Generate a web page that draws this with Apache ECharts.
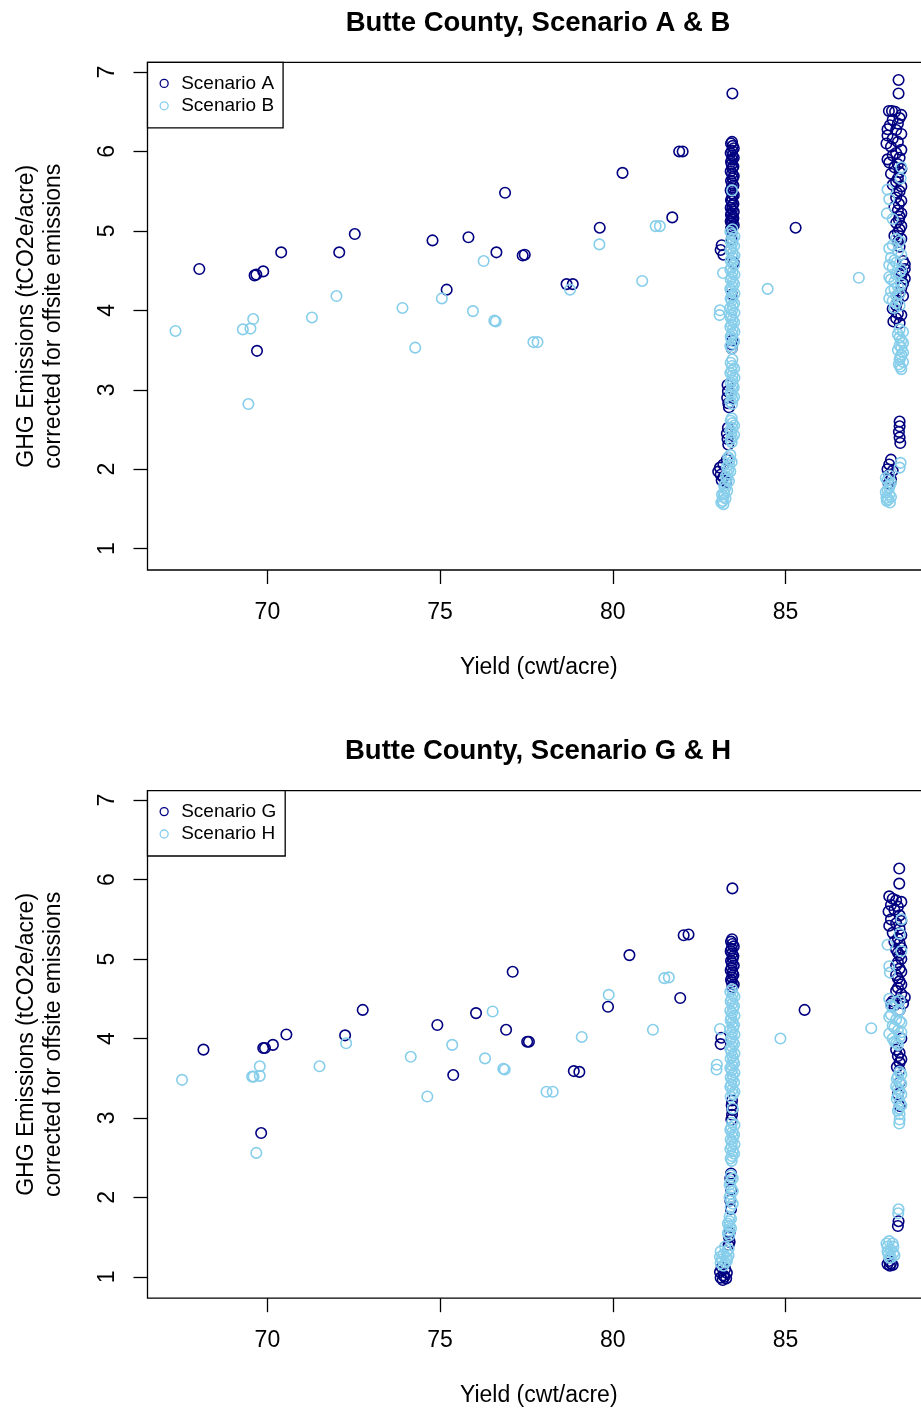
<!DOCTYPE html>
<html>
<head>
<meta charset="utf-8">
<script src="https://cdn.jsdelivr.net/npm/echarts@6/dist/echarts.min.js"></script>
<style>
html, body { margin: 0; padding: 0; background: #fff; }
#chart { width: 921px; height: 1410px; }
</style>
</head>
<body>
<div id="chart"></div>
<script>
// Butte County — GHG emissions vs yield, two scenario pairs stacked
const titles = ['Butte County, Scenario A & B', 'Butte County, Scenario G & H'];
const legendNames = [['Scenario A', 'Scenario B'], ['Scenario G', 'Scenario H']];
const xTicks = [70, 75, 80, 85];
const yTicks = [1, 2, 3, 4, 5, 6, 7];

// top panel, Scenario A (navy)
const scenA = [
  [68.03,4.52],[69.63,4.44],[69.68,4.45],[69.88,4.49],[69.70,3.49],[70.40,4.73],[72.08,4.73],
  [72.53,4.96],[74.78,4.88],[75.19,4.26],[75.82,4.92],[76.63,4.73],[76.88,5.48],[77.39,4.69],
  [77.45,4.70],[78.66,4.33],[78.84,4.33],[79.62,5.04],[80.28,5.73],[81.72,5.17],[81.92,6.00],
  [82.02,6.00],[85.29,5.04],
  // column ~83.4
  [83.46,6.73],
  [83.45,6.12],[83.47,6.07],[83.45,6.01],[83.46,5.95],[83.45,5.90],[83.44,5.84],[83.46,5.79],
  [83.45,5.72],[83.47,5.66],[83.45,5.60],[83.44,5.54],[83.46,5.47],[83.45,5.42],[83.44,5.37],
  [83.46,5.32],[83.45,5.27],[83.43,5.22],[83.47,5.18],[83.45,5.14],[83.44,5.10],[83.46,5.05],
  [83.45,5.00],
  [83.42,6.10],[83.50,6.04],[83.41,5.98],[83.50,5.92],[83.42,5.87],[83.49,5.81],[83.41,5.75],
  [83.50,5.69],[83.42,5.63],[83.49,5.57],[83.41,5.51],[83.50,5.45],[83.42,5.39],[83.49,5.34],
  [83.41,5.29],[83.50,5.24],[83.42,5.20],[83.49,5.16],[83.41,5.12],[83.50,5.07],[83.42,5.03],
  [83.15,4.82],[83.12,4.76],[83.20,4.70],[83.44,4.90],[83.50,4.60],[83.45,4.20],
  [83.46,3.62],[83.45,3.57],[83.44,3.52],
  [83.32,3.06],[83.33,2.98],[83.31,2.90],[83.34,2.83],[83.36,2.78],
  [83.33,2.52],[83.30,2.45],[83.32,2.38],[83.34,2.31],
  [83.30,2.12],[83.20,2.06],[83.10,2.02],[83.05,1.97],[83.12,1.93],[83.20,1.90],[83.15,1.86],[83.28,1.84],
  // column ~88.2
  [88.27,6.90],[88.27,6.73],[87.99,6.51],[88.08,6.51],[88.17,6.50],
  [88.30,6.42],[88.02,6.33],[88.20,6.27],[87.95,6.20],[88.25,6.12],[88.05,6.06],[88.20,5.98],
  [88.30,5.92],[88.00,5.86],[88.15,5.80],[88.30,5.74],[88.25,5.66],[88.10,5.58],[88.30,5.50],
  [88.20,5.42],[88.28,5.34],[88.25,5.26],[88.30,5.18],[88.20,5.10],[88.30,5.02],[88.15,4.94],
  [88.25,4.86],
  [88.35,6.46],[88.10,6.40],[88.25,6.35],[87.95,6.28],[88.35,6.22],[88.10,6.16],[87.92,6.10],
  [88.35,6.02],[88.10,5.95],[87.95,5.90],[88.25,5.84],[88.35,5.78],[88.05,5.72],[88.20,5.62],
  [88.35,5.56],[88.22,5.48],[88.35,5.38],[88.15,5.30],[88.35,5.22],[88.28,5.14],[88.35,5.06],
  [88.25,4.98],[88.35,4.90],[88.30,4.80],
  [88.40,4.62],[88.45,4.52],[88.35,4.44],[88.40,4.34],[88.30,4.22],[88.25,4.12],
  [88.10,4.02],[88.25,3.96],[88.20,3.90],[88.30,3.84],
  [88.45,4.58],[88.38,4.48],[88.45,4.40],[88.35,4.28],[88.40,4.18],[88.20,4.06],[88.35,3.94],[88.12,3.86],
  [88.30,2.60],[88.30,2.54],[88.28,2.47],[88.30,2.40],[88.32,2.33],
  [88.05,2.12],[88.00,2.06],[87.95,2.00],[88.10,1.98],[88.00,1.93],[88.05,1.87],[87.98,1.82]
];

// top panel, Scenario B (sky blue)
const scenB = [
  [67.34,3.74],[69.29,3.76],[69.51,3.77],[69.59,3.89],[69.45,2.82],[71.29,3.91],[72.00,4.18],
  [73.91,4.03],[74.28,3.53],[75.05,4.15],[75.95,3.99],[76.57,3.87],[76.61,3.86],[76.26,4.62],
  [77.70,3.60],[77.82,3.60],[79.61,4.83],[81.24,5.06],[81.36,5.06],[80.85,4.37],[78.76,4.26],
  [87.12,4.41],[84.48,4.27],
  // column ~83.4
  [83.45,5.51],[83.19,4.47],[83.10,4.00],[83.09,3.94],
  [83.46,5.02],[83.44,4.96],[83.47,4.90],[83.45,4.84],[83.43,4.78],[83.46,4.72],[83.48,4.66],
  [83.45,4.60],[83.43,4.54],[83.46,4.48],[83.44,4.42],[83.47,4.36],[83.45,4.30],[83.43,4.24],
  [83.46,4.18],[83.44,4.12],[83.47,4.06],[83.45,4.00],[83.43,3.94],[83.46,3.88],[83.44,3.82],
  [83.47,3.76],[83.45,3.70],[83.43,3.64],[83.46,3.58],[83.44,3.52],
  [83.40,4.99],[83.52,4.93],[83.41,4.87],[83.51,4.81],[83.40,4.75],[83.52,4.69],[83.41,4.63],
  [83.51,4.57],[83.40,4.51],[83.52,4.45],[83.41,4.39],[83.51,4.33],[83.40,4.27],[83.52,4.21],
  [83.41,4.15],[83.51,4.09],[83.40,4.03],[83.52,3.97],[83.41,3.91],[83.51,3.85],[83.40,3.79],
  [83.52,3.73],[83.41,3.67],[83.51,3.61],[83.40,3.55],
  [83.46,3.38],[83.45,3.30],[83.44,3.24],[83.46,3.18],[83.45,3.12],[83.47,3.06],[83.45,3.00],
  [83.44,2.94],[83.46,2.88],[83.45,2.82],
  [83.41,3.34],[83.51,3.27],[83.40,3.21],[83.52,3.15],[83.41,3.09],[83.50,3.03],[83.41,2.97],
  [83.51,2.91],[83.40,2.85],
  [83.44,2.64],[83.46,2.58],[83.45,2.52],[83.43,2.46],[83.45,2.40],[83.44,2.34],
  [83.41,2.61],[83.51,2.55],[83.40,2.49],[83.51,2.43],[83.41,2.37],
  [83.40,2.18],[83.38,2.12],[83.36,2.06],[83.35,2.00],[83.32,1.94],[83.30,1.88],[83.27,1.82],
  [83.25,1.76],[83.22,1.70],[83.20,1.65],[83.18,1.60],[83.20,1.56],
  [83.34,2.15],[83.44,2.09],[83.30,2.03],[83.40,1.97],[83.27,1.91],[83.36,1.85],[83.22,1.79],
  [83.31,1.73],[83.16,1.68],[83.26,1.63],[83.14,1.58],
  // column ~88.2
  [87.95,5.52],[88.35,5.80],[88.33,5.66],[88.00,5.40],[87.93,5.22],[88.10,5.15],
  [88.20,4.90],[88.10,4.82],[88.25,4.74],[88.05,4.66],[88.20,4.60],[88.10,4.54],[88.30,4.48],
  [88.00,4.42],[88.15,4.36],[88.25,4.30],[88.05,4.24],[88.20,4.18],[88.10,4.12],[88.30,4.06],
  [88.30,4.87],[88.00,4.78],[88.35,4.70],[88.15,4.63],[88.00,4.57],[88.35,4.51],[88.20,4.45],
  [88.05,4.39],[88.35,4.33],[88.15,4.27],[88.30,4.21],[88.00,4.15],[88.20,4.09],[88.15,4.03],
  [88.30,3.76],[88.25,3.70],[88.35,3.62],[88.30,3.56],[88.25,3.50],[88.35,3.44],[88.30,3.38],
  [88.28,3.32],[88.35,3.26],
  [88.40,3.73],[88.30,3.66],[88.40,3.59],[88.35,3.53],[88.40,3.47],[88.32,3.41],[88.40,3.35],[88.32,3.29],
  [88.33,2.08],[88.30,2.02],
  [88.00,1.92],[87.95,1.86],[88.02,1.80],[87.95,1.74],[88.00,1.68],[87.97,1.62],[88.02,1.58],[87.93,1.60],
  [87.90,1.89],[88.05,1.83],[88.00,1.77],[87.90,1.71],[88.05,1.65],[87.92,1.64]
];

// bottom panel, Scenario G (navy)
const scenG = [
  [68.15,3.86],[69.88,3.88],[69.93,3.88],[70.16,3.92],[70.55,4.05],[69.82,2.81],[72.25,4.04],
  [72.76,4.36],[74.92,4.17],[75.38,3.54],[76.04,4.32],[76.91,4.11],[77.10,4.84],[77.52,3.96],
  [77.57,3.96],[78.87,3.59],[79.03,3.58],[79.86,4.40],[80.48,5.05],[81.95,4.51],[82.05,5.30],
  [82.19,5.31],[85.55,4.36],
  // column ~83.4
  [83.46,5.89],
  [83.45,5.25],[83.46,5.19],[83.44,5.13],[83.45,5.07],[83.47,5.01],[83.45,4.95],[83.44,4.89],
  [83.46,4.83],[83.45,4.77],[83.44,4.71],[83.46,4.65],
  [83.42,5.22],[83.50,5.16],[83.41,5.10],[83.49,5.04],[83.42,4.98],[83.50,4.92],[83.41,4.86],
  [83.49,4.80],[83.42,4.74],[83.50,4.68],
  [83.14,4.01],[83.12,3.93],
  [83.45,3.22],[83.44,3.16],[83.46,3.10],[83.45,3.04],[83.43,2.98],
  [83.42,2.30],[83.40,2.24],[83.42,2.10],[83.40,1.96],[83.42,1.85],
  [83.38,1.56],[83.36,1.50],[83.38,1.44],[83.35,1.40],
  [83.15,1.12],[83.25,1.10],[83.10,1.06],[83.30,1.05],[83.20,1.02],[83.12,0.99],[83.28,0.98],
  [83.18,0.96],[83.23,1.00],
  // column ~88.2
  [88.29,6.14],[88.29,5.95],
  [88.00,5.79],[88.10,5.76],[88.20,5.74],[88.25,5.66],[87.98,5.60],[88.30,5.55],[88.05,5.50],
  [88.20,5.45],[88.30,5.38],[88.10,5.33],[88.25,5.26],[88.30,5.20],[88.20,5.12],[88.30,5.05],
  [88.25,4.96],[88.30,4.88],[88.20,4.80],[88.30,4.72],[88.25,4.64],[88.35,4.56],[88.30,4.48],
  [88.15,4.42],[88.05,4.44],[88.40,4.44],[88.30,4.36],
  [88.35,5.72],[88.05,5.68],[88.15,5.62],[88.35,5.48],[88.00,5.42],[88.35,5.30],[88.15,5.22],
  [88.35,5.14],[88.25,5.08],[88.35,5.00],[88.20,4.92],[88.35,4.84],[88.25,4.76],[88.35,4.68],
  [88.20,4.60],[88.45,4.52],[88.10,4.47],
  [88.35,4.00],[88.20,3.86],[88.25,3.78],[88.30,3.70],[88.22,3.64],[88.30,3.45],[88.25,3.30],[88.30,3.15],
  [88.30,3.82],[88.35,3.74],[88.30,3.60],
  [88.27,1.70],[88.25,1.64],
  [88.00,1.20],[88.05,1.17],[87.95,1.16],[88.10,1.15],[88.02,1.14]
];

// bottom panel, Scenario H (sky blue)
const scenH = [
  [67.53,3.48],[69.56,3.52],[69.60,3.52],[69.78,3.65],[69.78,3.53],[69.68,2.56],[71.51,3.65],
  [72.28,3.94],[74.15,3.77],[74.63,3.27],[75.35,3.92],[76.30,3.75],[76.52,4.34],[76.83,3.62],
  [76.87,3.61],[79.10,4.02],[79.88,4.55],[78.08,3.33],[78.26,3.33],[81.16,4.11],[81.49,4.76],
  [81.62,4.77],[84.85,4.00],[87.48,4.13],
  // column ~83.4
  [83.01,3.67],[83.00,3.61],[83.10,4.12],
  [83.45,4.62],[83.47,4.56],[83.44,4.50],[83.46,4.44],[83.48,4.38],[83.45,4.32],[83.43,4.26],
  [83.46,4.20],[83.48,4.14],[83.45,4.08],[83.44,4.02],[83.47,3.96],[83.45,3.90],[83.43,3.84],
  [83.46,3.78],[83.48,3.72],[83.45,3.66],[83.44,3.60],[83.47,3.54],[83.45,3.48],[83.43,3.42],
  [83.46,3.36],[83.48,3.30],[83.47,3.12],[83.45,2.94],[83.43,2.88],[83.46,2.82],[83.48,2.76],
  [83.45,2.70],[83.44,2.64],[83.47,2.58],[83.45,2.52],[83.44,2.46],
  [83.40,4.59],[83.52,4.53],[83.41,4.47],[83.51,4.41],[83.40,4.35],[83.52,4.29],[83.41,4.23],
  [83.51,4.17],[83.40,4.11],[83.52,4.05],[83.41,3.99],[83.51,3.93],[83.40,3.87],[83.52,3.81],
  [83.41,3.75],[83.51,3.69],[83.40,3.63],[83.52,3.57],[83.41,3.51],[83.51,3.45],[83.40,3.39],
  [83.52,3.33],[83.41,3.27],
  [83.52,2.91],[83.40,2.85],[83.51,2.79],[83.41,2.73],[83.52,2.67],[83.40,2.61],[83.51,2.55],[83.41,2.49],
  [83.42,2.28],[83.41,2.20],[83.42,2.12],[83.41,2.04],[83.42,1.96],[83.41,1.88],
  [83.47,2.24],[83.38,2.16],[83.47,2.08],[83.38,2.00],[83.47,1.92],
  [83.38,1.76],[83.37,1.70],[83.38,1.64],[83.36,1.58],[83.37,1.52],
  [83.42,1.73],[83.33,1.67],[83.42,1.61],[83.33,1.55],
  [83.25,1.38],[83.30,1.32],[83.20,1.28],[83.30,1.24],[83.15,1.22],[83.25,1.18],[83.20,1.14],
  [83.35,1.35],[83.12,1.32],[83.35,1.27],[83.10,1.25],[83.30,1.20],[83.12,1.17],
  // column ~88.2
  [88.35,5.50],[87.95,5.18],[88.00,4.91],[88.02,4.83],[88.30,5.32],[88.35,5.10],
  [88.00,4.50],[88.20,4.46],[88.10,4.40],[88.30,4.36],[88.05,4.30],[88.20,4.24],[88.35,4.20],
  [88.10,4.16],[88.25,4.10],[88.00,4.06],[88.30,4.02],[88.15,3.96],[88.25,3.92],
  [88.30,4.48],[88.05,4.42],[88.25,4.34],[88.00,4.27],[88.30,4.22],[88.15,4.14],[88.35,4.08],
  [88.10,4.00],[88.20,3.94],
  [88.30,3.58],[88.25,3.52],[88.30,3.46],[88.20,3.40],[88.30,3.34],[88.25,3.28],[88.30,3.20],
  [88.28,3.12],[88.30,3.05],[88.30,2.98],[88.29,2.93],
  [88.35,3.55],[88.22,3.49],[88.35,3.43],[88.25,3.37],[88.35,3.30],[88.22,3.24],[88.35,3.16],[88.25,3.09],
  [88.27,1.85],[88.26,1.80],
  [88.00,1.45],[88.10,1.42],[87.95,1.38],[88.05,1.34],[88.12,1.30],[87.98,1.28],[88.05,1.24],
  [87.92,1.42],[88.12,1.38],[87.95,1.32],[88.15,1.27],[88.00,1.24]
];

const FONT = '"Liberation Sans", Arial, sans-serif';
const NAVY = '#000080';
const SKY = '#87CEEB';
const panelTops = [62.4, 790.6];
const titleTops = [4, 732];
const seriesData = [[scenA, scenB], [scenG, scenH]];

const chart = echarts.init(document.getElementById('chart'));

const option = {
  animation: false,
  backgroundColor: '#fff',
  title: [], grid: [], xAxis: [], yAxis: [], legend: [], series: []
};

panelTops.forEach((top, i) => {
  option.title.push({
    text: titles[i], left: 533, top: titleTops[i], textAlign: 'center',
    textStyle: { fontFamily: FONT, fontSize: 27.5, fontWeight: 'bold', color: '#000' }
  });
  option.grid.push({
    left: 147.5, top: top, width: 782.5, height: 507.6, outerBoundsMode: 'none',
    show: true, borderColor: '#000', borderWidth: 1.3, backgroundColor: 'transparent'
  });
  option.xAxis.push({
    gridIndex: i, type: 'value', min: 66.53, max: 89.18,
    axisLine: { show: false }, splitLine: { show: false },
    axisTick: { show: true, length: 14, customValues: xTicks, lineStyle: { color: '#000', width: 1.3 } },
    axisLabel: { customValues: xTicks, margin: 31, fontSize: 23, color: '#000', fontFamily: FONT },
    name: 'Yield (cwt/acre)', nameLocation: 'middle', nameGap: 86,
    nameTextStyle: { fontSize: 23, color: '#000', fontFamily: FONT }
  });
  option.yAxis.push({
    gridIndex: i, type: 'value', min: 0.731, max: 7.121,
    axisLine: { show: false }, splitLine: { show: false },
    axisTick: { show: true, length: 14, customValues: yTicks, lineStyle: { color: '#000', width: 1.3 } },
    axisLabel: { customValues: yTicks, rotate: 90, margin: 28, fontSize: 23, color: '#000', fontFamily: FONT },
    name: 'GHG Emissions (tCO2e/acre)\ncorrected for offsite emissions',
    nameLocation: 'middle', nameRotate: 90, nameGap: 80,
    nameTextStyle: { fontSize: 23, lineHeight: 27, color: '#000', fontFamily: FONT }
  });
  option.legend.push({
    data: legendNames[i], orient: 'vertical', left: 147.5, top: top,
    padding: [11, 9, 12, 12], itemGap: 2.4, itemWidth: 8, itemHeight: 8,
    borderColor: '#000', borderWidth: 1.3, backgroundColor: '#fff',
    icon: 'circle', selectedMode: false,
    itemStyle: { borderWidth: 1.3 },
    textStyle: { fontSize: 19, lineHeight: 20, padding: [0, 0, 0, 8], color: '#000', fontFamily: FONT }
  });
  [NAVY, SKY].forEach((col, k) => {
    option.series.push({
      type: 'scatter', name: legendNames[i][k], xAxisIndex: i, yAxisIndex: i,
      data: seriesData[i][k], symbol: 'circle', symbolSize: 10.5, silent: true,
      itemStyle: { color: 'rgba(0,0,0,0)', borderColor: col, borderWidth: 1.6, opacity: 1 }
    });
  });
});

chart.setOption(option);
</script>
</body>
</html>
